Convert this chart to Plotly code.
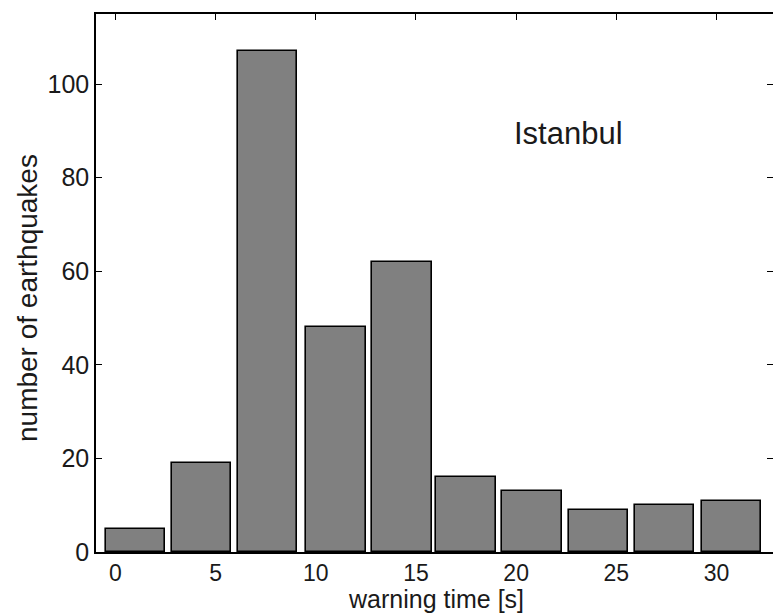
import plotly.graph_objects as go

# Data
bin_centers = [1.0, 4.3, 7.6, 11.0, 14.3, 17.5, 20.8, 24.1, 27.4, 30.75]
counts = [5, 19, 107, 48, 62, 16, 13, 9, 10, 11]
bar_width = 2.97
x_ticks = [0, 5, 10, 15, 20, 25, 30]
y_ticks = [0, 20, 40, 60, 80, 100]

FONT = "Liberation Sans, Arial, Helvetica, sans-serif"

fig = go.Figure()
fig.add_trace(go.Bar(
    x=bin_centers, y=counts, width=[bar_width] * len(counts),
    marker=dict(color="#808080", line=dict(color="black", width=1.6)),
    showlegend=False, hoverinfo="skip",
))
# invisible trace so the right-hand tick axis is drawn
fig.add_trace(go.Scatter(x=[0], y=[0], yaxis="y2", mode="markers",
                         marker=dict(opacity=0), showlegend=False, hoverinfo="skip"))

fig.update_layout(
    width=773, height=615,
    margin=dict(l=96, r=0, t=14, b=63),
    plot_bgcolor="white", paper_bgcolor="white",
    font=dict(family=FONT, size=24, color="#1a1a1a"),
    xaxis=dict(range=[-0.97, 32.82], tickvals=x_ticks, ticks="inside", ticklen=6,
               tickwidth=1, tickcolor="black", showline=True, linecolor="black",
               linewidth=1.5, mirror="ticks", showgrid=False, zeroline=False,
               layer="below traces", tickfont=dict(size=23)),
    yaxis=dict(range=[0, 115], tickvals=y_ticks, ticks="inside", ticklen=6,
               tickwidth=1, tickcolor="black", showline=True, linecolor="black",
               linewidth=1.5, mirror=False, showgrid=False, zeroline=False,
               tickfont=dict(size=25)),
    yaxis2=dict(range=[0, 115], tickvals=y_ticks, ticks="inside", ticklen=6,
                tickwidth=1, tickcolor="black", showline=False, overlaying="y",
                side="right", showticklabels=False, showgrid=False, zeroline=False),
    bargap=0,
    annotations=[
        dict(text="warning time [s]", xref="paper", yref="paper", x=0.502, y=-0.117,
             xanchor="center", yanchor="bottom", showarrow=False,
             font=dict(size=25, family=FONT)),
        dict(text="number of earthquakes", xref="paper", yref="paper", x=-0.102, y=0.472,
             xanchor="center", yanchor="middle", textangle=-90, showarrow=False,
             font=dict(size=28, family=FONT)),
        dict(text="Istanbul", xref="x", yref="y", x=22.6, y=89.5,
             xanchor="center", yanchor="middle", showarrow=False,
             font=dict(size=31, family=FONT)),
    ],
)

fig.write_html("out.html")
